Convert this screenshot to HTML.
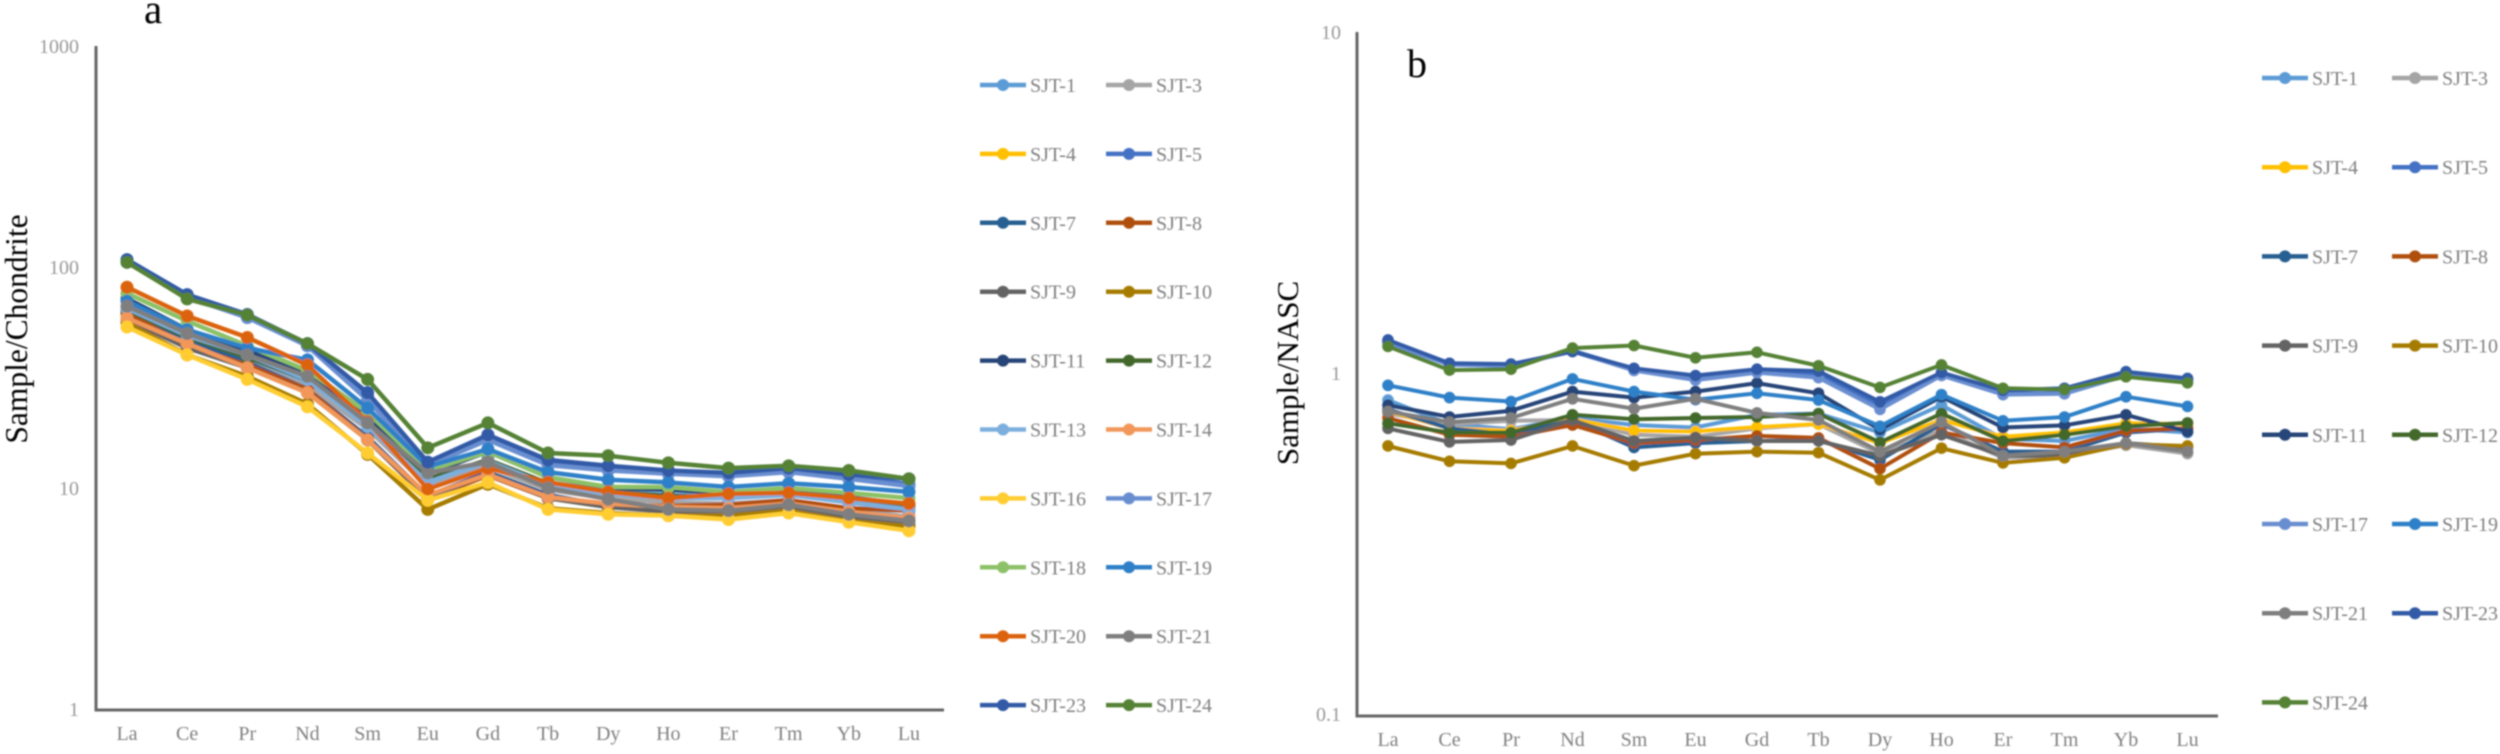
<!DOCTYPE html>
<html lang="en">
<head>
<meta charset="utf-8">
<title>REE patterns: Sample/Chondrite and Sample/NASC</title>
<style>
  html, body { margin: 0; padding: 0; background: #fff; width: 2500px; height: 754px; overflow: hidden; }
  svg { display: block; }
  text { font-family: "Liberation Serif", serif; }
</style>
</head>
<body>
<svg id="figure" xmlns="http://www.w3.org/2000/svg" width="2500" height="754" viewBox="0 0 2500 754">
  <defs>
    <filter id="soft" x="-5%" y="-5%" width="110%" height="110%"><feGaussianBlur stdDeviation="0.75"/></filter>
  </defs>
  <rect x="0" y="0" width="2500" height="754" fill="#ffffff"/>
  <g id="root" filter="url(#soft)">
    <text x="144" y="23" font-size="41" fill="#000">a</text>
    <text x="1407" y="77" font-size="40" fill="#000">b</text>
    <text transform="translate(27,329) rotate(-90)" text-anchor="middle" font-size="31.5" fill="#000">Sample/Chondrite</text>
    <text transform="translate(1298,373) rotate(-90)" text-anchor="middle" font-size="31" fill="#000">Sample/NASC</text>
    <g id="chartA"></g>
    <g id="chartB"></g>
  </g>
</svg>
<script>
const categories = ["La","Ce","Pr","Nd","Sm","Eu","Gd","Tb","Dy","Ho","Er","Tm","Yb","Lu"];
const yTicksA = [1, 10, 100, 1000];
const yTicksB = [0.1, 1, 10];
const seriesA = {
  "SJT-1":  [62,47,38,30,19,10.5,13.0,10.2,9.6,9.3,9.2,9.3,8.7,8.1],
  "SJT-3":  [60,46,37,29,18.5,10.2,12.5,9.8,9.0,8.6,8.5,8.8,8.0,7.4],
  "SJT-4":  [60,44,35,27,16.5,9.0,11.6,9.0,8.2,7.9,7.9,8.3,7.4,7.0],
  "SJT-5":  [106,74,60,44,26,12.8,17,13,12.3,11.8,11.5,12,11.3,10.4],
  "SJT-7":  [64,46,37,28,17,9.2,11.8,9.3,8.3,8.2,8.1,8.3,7.7,7.2],
  "SJT-8":  [62,44,36,28,16.5,8.9,11.4,9.0,8.3,8.3,8.4,8.8,8.1,7.9],
  "SJT-9":  [58,43,35,27,16.5,9.0,11.6,9.0,8.2,7.8,7.7,8.1,7.4,6.8],
  "SJT-10": [56,40,32,24,14.2,8.0,10.4,8.1,7.7,7.5,7.5,7.9,7.1,6.7],
  "SJT-11": [72,52,42,33,21,11.6,14.6,11.2,10,9.8,9.5,9.9,9.1,8.4],
  "SJT-12": [64,48,39,31,20,11.0,13.4,10.5,9.6,9.2,9.1,9.5,8.8,8.3],
  "SJT-13": [65,49,40,31,19,10.6,13.2,10.3,9.4,9.0,9.0,9.3,8.6,8.0],
  "SJT-14": [58.7,45,35,27,16.5,9.3,11.5,9.1,8.5,8.2,8.1,8.5,7.8,7.3],
  "SJT-16": [53.5,40,31,23.3,14.4,8.8,10.6,8.0,7.6,7.5,7.2,7.7,7.0,6.4],
  "SJT-17": [105,73,59,44,25,12.6,16.5,12.7,12,11.6,11.3,11.8,11.0,10.2],
  "SJT-18": [76,57,44,34,22,12,14.6,11.2,10.1,10.1,9.6,10,9.5,9],
  "SJT-19": [70,52,43,38,23,12.5,15,11.8,10.9,10.6,10.1,10.5,10.1,9.6],
  "SJT-20": [81,60,48,36,20,9.9,12.3,10.6,9.6,9,9.4,9.5,9,8.5],
  "SJT-21": [66.5,50,40,32,19.7,11.7,13.1,10,8.9,8,7.9,8.4,7.6,7.1],
  "SJT-23": [108,75,61,45,27,13.1,17.4,13.4,12.6,12,11.7,12.3,11.5,11],
  "SJT-24": [105,71.7,60.6,45,31,15.2,19.7,14.4,14,13,12.3,12.6,12,11]
};
const seriesB = {
  "SJT-1":  [.833,.708,.684,.738,.704,.692,.754,.76,.669,.805,.641,.632,.688,.669],
  "SJT-3":  [.76,.708,.724,.728,.659,.65,.688,.708,.58,.678,.564,.572,.614,.58],
  "SJT-4":  [.771,.688,.678,.732,.678,.674,.694,.708,.623,.728,.65,.669,.712,.708],
  "SJT-5":  [1.235,1.062,1.056,1.163,1.026,.969,1.012,.992,.805,.992,.869,.874,.992,.955],
  "SJT-7":  [.782,.688,.659,.728,.605,.623,.632,.636,.556,.708,.588,.588,.669,.688],
  "SJT-8":  [.738,.659,.65,.704,.623,.636,.654,.645,.524,.669,.623,.605,.678,.688],
  "SJT-9":  [.688,.628,.636,.728,.632,.647,.632,.632,.572,.659,.572,.572,.623,.605],
  "SJT-10": [.611,.551,.543,.611,.535,.58,.588,.584,.486,.602,.545,.564,.618,.611],
  "SJT-11": [.805,.743,.775,.882,.847,.882,.934,.872,.682,.852,.692,.702,.754,.673],
  "SJT-12": [.712,.669,.669,.754,.732,.738,.743,.76,.626,.76,.632,.659,.698,.714],
  "SJT-17": [1.224,1.056,1.05,1.156,1.017,.953,1.003,.969,.782,.983,.864,.869,.983,.95],
  "SJT-19": [.92,.847,.825,.961,.882,.835,.872,.833,.698,.864,.724,.743,.852,.798],
  "SJT-21": [.771,.718,.738,.84,.786,.84,.764,.728,.588,.718,.572,.588,.623,.588],
  "SJT-23": [1.25,1.068,1.062,1.156,1.032,.983,1.026,1.012,.823,1.003,.889,.902,1.009,.964],
  "SJT-24": [1.197,1.02,1.026,1.183,1.204,1.108,1.15,1.05,.907,1.056,.902,.894,.975,.936]
};
const seriesColors = {
  "SJT-1":"#5b9bd5","SJT-3":"#a5a5a5","SJT-4":"#ffc000","SJT-5":"#4472c4","SJT-7":"#255e91",
  "SJT-8":"#b0500f","SJT-9":"#636363","SJT-10":"#a67c00","SJT-11":"#264478","SJT-12":"#43682b",
  "SJT-13":"#7cafdd","SJT-14":"#f1975a","SJT-16":"#ffcd33","SJT-17":"#698ed0","SJT-18":"#8cc168",
  "SJT-19":"#2e80c8","SJT-20":"#dc640f","SJT-21":"#7f7f7f","SJT-23":"#335aa6","SJT-24":"#548235"
};

const NS = "http://www.w3.org/2000/svg";
function make(parent, tag, attrs) {
  const el = document.createElementNS(NS, tag);
  for (const k in attrs) el.setAttribute(k, attrs[k]);
  parent.appendChild(el);
  return el;
}

function drawChart(host, series, ticks, cfg) {
  const xPos = i => cfg.x0 + i * cfg.dx;
  const yPos = v => cfg.y1 - (Math.log10(v) - Math.log10(cfg.vMin)) * cfg.decade;

  const yAxis = make(host, "line", {x1: cfg.axisX, x2: cfg.axisX, y1: yPos(cfg.vMax), y2: cfg.axisY + 1.5, stroke: "#666", "stroke-width": 3});
  
  
  const xAxis = make(host, "line", {x1: cfg.axisX, x2: cfg.axisEnd, y1: cfg.axisY, y2: cfg.axisY, stroke: "#666", "stroke-width": 3});
  
  

  ticks.forEach(t => {
    const lab = make(host, "text", {x: cfg.tickX, y: yPos(t) + 7, "text-anchor": "end", "font-size": 20, fill: "#999"});
    
    
    lab.textContent = String(t);
  });
  categories.forEach((c, i) => {
    const lab = make(host, "text", {x: xPos(i), y: cfg.axisY + 30, "text-anchor": "middle", "font-size": 20, fill: "#808080"});
    
    
    lab.textContent = c;
  });

  Object.keys(series).forEach(name => {
    const color = seriesColors[name];
    const g = make(host, "g", {});
    
    
    const pts = series[name].map((v, i) => xPos(i).toFixed(1) + "," + yPos(v).toFixed(1)).join(" ");
    const line = make(g, "polyline", {points: pts, fill: "none", stroke: color, "stroke-width": cfg.lw, "stroke-linejoin": "round"});
    
    
    series[name].forEach((v, i) => {
      const dot = make(g, "circle", {cx: xPos(i), cy: yPos(v), r: cfg.r, fill: color});
      
      
    });
  });

  Object.keys(series).forEach((name, idx) => {
    const color = seriesColors[name];
    const col = idx % 2, row = Math.floor(idx / 2);
    const y = cfg.legY + row * cfg.legStep;
    const lx = cfg.legX[col];
    const g = make(host, "g", {});
    
    
    const sw = make(g, "line", {x1: lx, x2: lx + 46, y1: y, y2: y, stroke: color, "stroke-width": 4.5});
    
    
    const mk = make(g, "circle", {cx: lx + 23, cy: y, r: 6, fill: color});
    
    
    const tx = make(g, "text", {x: lx + 50, y: y + 7, "font-size": 20, fill: "#808080"});
    
    
    tx.textContent = name;
  });
}

drawChart(document.getElementById("chartA"), seriesA, yTicksA, {
  x0: 127, dx: 60.15, y1: 709, decade: 221, vMin: 1, vMax: 1000,
  axisX: 96, axisY: 710, axisEnd: 944, tickX: 79, lw: 4.5, r: 6.5,
  legX: [980, 1106], legY: 85, legStep: 68.9
});
drawChart(document.getElementById("chartB"), seriesB, yTicksB, {
  x0: 1388, dx: 61.5, y1: 714, decade: 341, vMin: 0.1, vMax: 10,
  axisX: 1357, axisY: 716, axisEnd: 2218, tickX: 1341, lw: 4, r: 5.8,
  legX: [2262, 2392], legY: 78, legStep: 89.2
});
</script>
</body>
</html>
